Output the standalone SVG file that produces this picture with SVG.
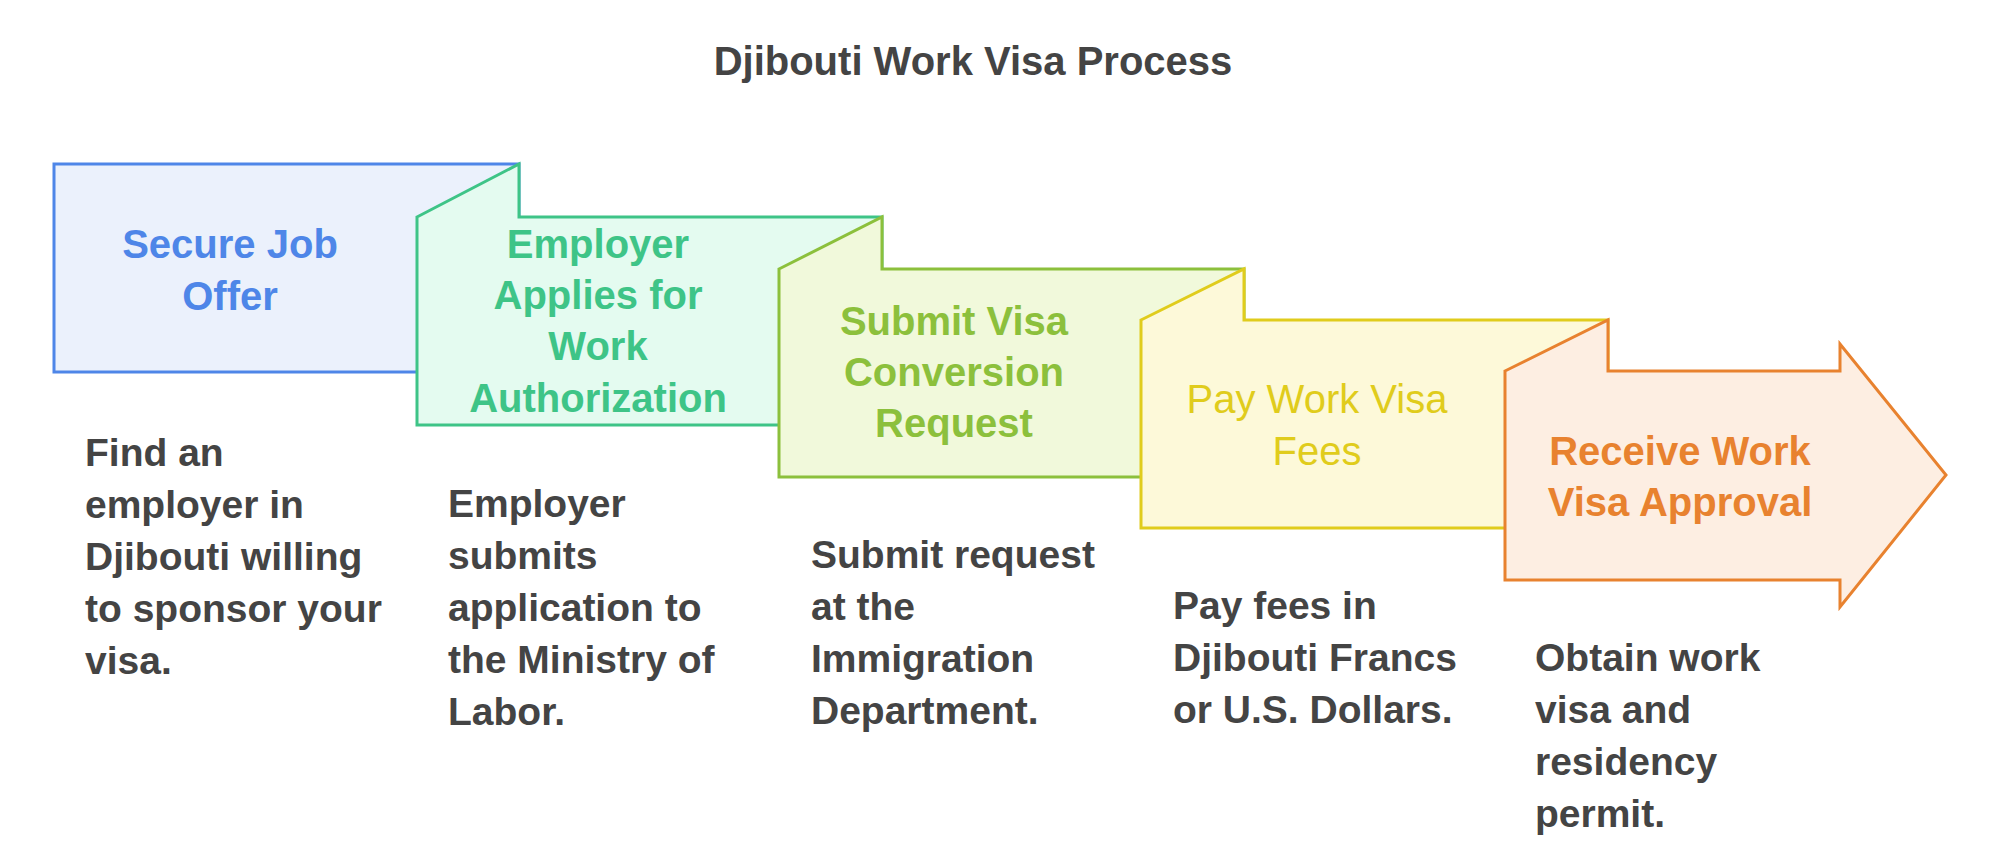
<svg xmlns="http://www.w3.org/2000/svg" width="1999" height="866" viewBox="0 0 1999 866">
<style>
text{font-family:"Liberation Sans",Arial,sans-serif;font-weight:bold}
.t{font-size:40px;fill:#444}
.l{font-size:40px;text-anchor:middle}
.d{font-size:39px;fill:#444}
.s{stroke-width:3;stroke-linejoin:miter}
</style>
<rect width="1999" height="866" fill="#fff"/>
<text class="t" x="973" y="75" text-anchor="middle">Djibouti Work Visa Process</text>
<g id="step1">
<rect class="s" x="54" y="164" width="465" height="208" fill="#ebf1fc" stroke="#4e86e8"/>
<text class="l" fill="#4e86e8"><tspan x="230" y="258">Secure Job</tspan><tspan x="230" y="310">Offer</tspan></text>
<text class="d"><tspan x="85" y="466">Find an</tspan><tspan x="85" y="518">employer in</tspan><tspan x="85" y="570">Djibouti willing</tspan><tspan x="85" y="622">to sponsor your</tspan><tspan x="85" y="674">visa.</tspan></text>
</g>
<g id="step2">
<path class="s" d="M417 217 L519 164 L519 217 L882 217 L882 425 L417 425 Z" fill="#e4fbf0" stroke="#3ec487"/>
<text class="l" fill="#3ec487"><tspan x="598" y="258">Employer</tspan><tspan x="598" y="309">Applies for</tspan><tspan x="598" y="360">Work</tspan><tspan x="598" y="412">Authorization</tspan></text>
<text class="d"><tspan x="448" y="517">Employer</tspan><tspan x="448" y="569">submits</tspan><tspan x="448" y="621">application to</tspan><tspan x="448" y="673">the Ministry of</tspan><tspan x="448" y="725">Labor.</tspan></text>
</g>
<g id="step3">
<path class="s" d="M779 269 L882 217 L882 269 L1244 269 L1244 477 L779 477 Z" fill="#f1f9db" stroke="#8cc03c"/>
<text class="l" fill="#8cc03c"><tspan x="954" y="335">Submit Visa</tspan><tspan x="954" y="386">Conversion</tspan><tspan x="954" y="437">Request</tspan></text>
<text class="d"><tspan x="811" y="568">Submit request</tspan><tspan x="811" y="620">at the</tspan><tspan x="811" y="672">Immigration</tspan><tspan x="811" y="724">Department.</tspan></text>
</g>
<g id="step4">
<path class="s" d="M1141 320 L1244 269 L1244 320 L1608 320 L1608 528 L1141 528 Z" fill="#fdf9d9" stroke="#e0cc1c"/>
<text class="l" fill="#e0cc1c" style="font-weight:normal"><tspan x="1317" y="413">Pay Work Visa</tspan><tspan x="1317" y="465">Fees</tspan></text>
<text class="d"><tspan x="1173" y="619">Pay fees in</tspan><tspan x="1173" y="671">Djibouti Francs</tspan><tspan x="1173" y="723">or U.S. Dollars.</tspan></text>
</g>
<g id="step5">
<path class="s" d="M1505 371 L1608 320 L1608 371 L1840 371 L1840 344 L1946 475 L1840 607 L1840 580 L1505 580 Z" fill="#fdeee2" stroke="#e8822f"/>
<text class="l" fill="#e8822f"><tspan x="1680" y="465">Receive Work</tspan><tspan x="1680" y="516">Visa Approval</tspan></text>
<text class="d"><tspan x="1535" y="671">Obtain work</tspan><tspan x="1535" y="723">visa and</tspan><tspan x="1535" y="775">residency</tspan><tspan x="1535" y="827">permit.</tspan></text>
</g>
<g id="connectors"/>
</svg>
